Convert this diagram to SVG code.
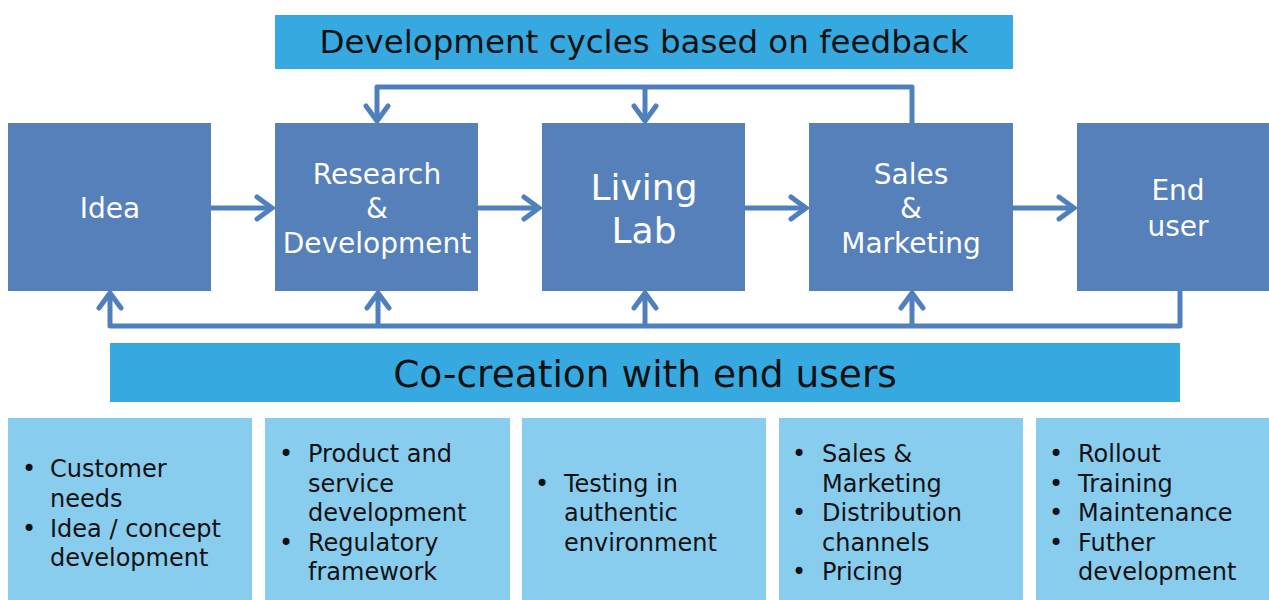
<svg xmlns="http://www.w3.org/2000/svg" width="1269" height="600" viewBox="0 0 1269 600">
<style>
.main{fill:#5580ba}
.banner{fill:#36a9e0}
.info{fill:#88cdee}
.wt{fill:#fff;font-family:"DejaVu Sans",Verdana,sans-serif;text-anchor:middle;dominant-baseline:central}
.bt{fill:#111;font-family:"DejaVu Sans",Verdana,sans-serif;font-size:24px}
.ln{fill:none;stroke:#4f80bd;stroke-width:5;stroke-linejoin:round}
</style>
<defs>
<marker id="ah" markerUnits="userSpaceOnUse" markerWidth="30" markerHeight="30" refX="22" refY="15" orient="auto" viewBox="0 0 30 30">
<polyline points="7,4 22,15 7,26" fill="none" stroke="#4f80bd" stroke-width="5" stroke-linecap="round" stroke-linejoin="miter"/>
</marker>
</defs>
<g id="banner-top"><rect class="banner" x="275" y="15" width="738" height="54"/><text class="wt" x="644" y="42" font-size="32.5" style="fill:#111">Development cycles based on feedback</text></g>
<g id="connectors">
<line class="ln" x1="211" y1="208" x2="272" y2="208" marker-end="url(#ah)"/>
<line class="ln" x1="478" y1="208" x2="539" y2="208" marker-end="url(#ah)"/>
<line class="ln" x1="745" y1="208" x2="806" y2="208" marker-end="url(#ah)"/>
<line class="ln" x1="1013" y1="208" x2="1074" y2="208" marker-end="url(#ah)"/>
<polyline class="ln" points="912,123 912,87 377,87 377,121" marker-end="url(#ah)"/>
<line class="ln" x1="645" y1="87" x2="645" y2="121" marker-end="url(#ah)"/>
<polyline class="ln" points="1180,291 1180,326 110,326 110,293" marker-end="url(#ah)"/>
<line class="ln" x1="378" y1="326" x2="378" y2="293" marker-end="url(#ah)"/>
<line class="ln" x1="645" y1="326" x2="645" y2="293" marker-end="url(#ah)"/>
<line class="ln" x1="912" y1="326" x2="912" y2="293" marker-end="url(#ah)"/>
</g>
<g id="idea"><rect class="main" x="8" y="123" width="203" height="168"/><text class="wt" x="110" y="208" font-size="28">Idea</text></g>
<g id="rnd"><rect class="main" x="275" y="123" width="203" height="168"/><text class="wt" x="377" font-size="28"><tspan x="377" y="174">Research</tspan><tspan x="377" y="208">&amp;</tspan><tspan x="377" y="243">Development</tspan></text></g>
<g id="livinglab"><rect class="main" x="542" y="123" width="203" height="168"/><text class="wt" x="644" font-size="36"><tspan x="644" y="187">Living</tspan><tspan x="644" y="230">Lab</tspan></text></g>
<g id="sales"><rect class="main" x="809" y="123" width="204" height="168"/><text class="wt" x="911" font-size="28"><tspan x="911" y="174">Sales</tspan><tspan x="911" y="208">&amp;</tspan><tspan x="911" y="243">Marketing</tspan></text></g>
<g id="enduser"><rect class="main" x="1077" y="123" width="192" height="168"/><text class="wt" x="1178" font-size="28"><tspan x="1178" y="190">End</tspan><tspan x="1178" y="226">user</tspan></text></g>
<g id="banner-bottom"><rect class="banner" x="110" y="343" width="1070" height="59"/><text class="wt" x="645" y="374" font-size="37.5" style="fill:#111">Co-creation with end users</text></g>
<g id="info1"><rect class="info" x="8" y="418" width="244" height="182"/>
<text class="bt"><tspan x="22" y="477">•</tspan><tspan x="50" y="477">Customer</tspan><tspan x="50" y="507">needs</tspan><tspan x="22" y="537">•</tspan><tspan x="50" y="537">Idea / concept</tspan><tspan x="50" y="566">development</tspan></text></g>
<g id="info2"><rect class="info" x="265" y="418" width="245" height="182"/>
<text class="bt"><tspan x="279" y="462">•</tspan><tspan x="308" y="462">Product and</tspan><tspan x="308" y="492">service</tspan><tspan x="308" y="521">development</tspan><tspan x="279" y="551">•</tspan><tspan x="308" y="551">Regulatory</tspan><tspan x="308" y="580">framework</tspan></text></g>
<g id="info3"><rect class="info" x="522" y="418" width="244" height="182"/>
<text class="bt"><tspan x="535" y="492">•</tspan><tspan x="564" y="492">Testing in</tspan><tspan x="564" y="521">authentic</tspan><tspan x="564" y="551">environment</tspan></text></g>
<g id="info4"><rect class="info" x="779" y="418" width="244" height="182"/>
<text class="bt"><tspan x="792" y="462">•</tspan><tspan x="822" y="462">Sales &amp;</tspan><tspan x="822" y="492">Marketing</tspan><tspan x="792" y="521">•</tspan><tspan x="822" y="521">Distribution</tspan><tspan x="822" y="551">channels</tspan><tspan x="792" y="580">•</tspan><tspan x="822" y="580">Pricing</tspan></text></g>
<g id="info5"><rect class="info" x="1036" y="418" width="233" height="182"/>
<text class="bt"><tspan x="1049" y="462">•</tspan><tspan x="1078" y="462">Rollout</tspan><tspan x="1049" y="492">•</tspan><tspan x="1078" y="492">Training</tspan><tspan x="1049" y="521">•</tspan><tspan x="1078" y="521">Maintenance</tspan><tspan x="1049" y="551">•</tspan><tspan x="1078" y="551">Futher</tspan><tspan x="1078" y="580">development</tspan></text></g>
</svg>
